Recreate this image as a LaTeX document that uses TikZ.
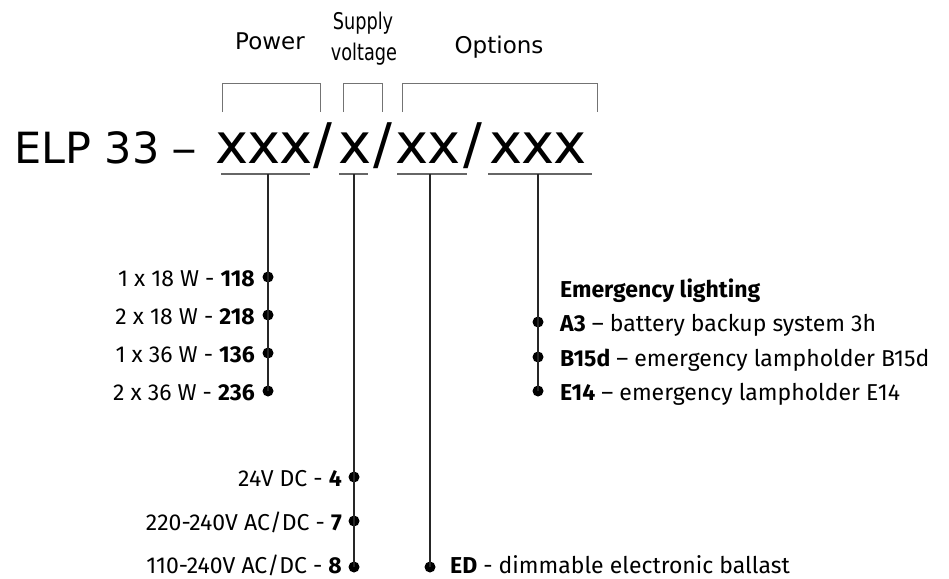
\documentclass[tikz,border=0pt]{standalone}
\usepackage{fontspec}
\setmainfont{Fira Sans}
\newfontfamily\bigfont{DejaVu Sans}
\newfontfamily\condfont{DejaVu Sans}[FakeStretch=0.77]
\begin{document}
\begin{tikzpicture}[x=1pt,y=-1pt,
  big/.style={font=\bigfont\fontsize{56}{58}\selectfont, inner sep=0pt, anchor=base},
  head/.style={font=\bigfont\fontsize{23}{25}\selectfont, inner sep=0pt, anchor=base},
  heads/.style={font=\condfont\fontsize{23}{25}\selectfont, inner sep=0pt, anchor=base},
  lbl/.style={font=\fontsize{23}{26}\selectfont, inner sep=0pt},
  brk/.style={draw=black!55, line width=0.9pt},
  uline/.style={draw=black!60, line width=1.3pt},
  conn/.style={draw=black!85, line width=1.3pt},
  dot/.style={circle, fill=black, inner sep=0pt, minimum size=11pt}]
\useasboundingbox (0,0) rectangle (949,578);
% headings
\node[head] (hpow) at (270,49) {Power};
\node[heads] (hsup1) at (363,30) {Supply};
\node[heads] (hsup2) at (364,60) {voltage};
\node[head] (hopt) at (499,53) {Options};
% brackets
\draw[brk] (222,112) |- (320,83) -- (320,112);
\draw[brk] (343,112) |- (382,83) -- (382,112);
\draw[brk] (402,112) |- (597,83) -- (597,112);
% big code
\node[big, font=\bigfont\fontsize{43}{46}\selectfont, anchor=base west] (elp) at (14,163) {ELP 33 \kern-2pt\scalebox{1.2}[1]{–}};
\node[big] (g1) at (264,163) {x\kern-1pt x\kern-1pt x};
\node[big] (s1) at (323,163) {/};
\node[big] (g2) at (355,163) {x};
\node[big] (s2) at (383,163) {/};
\node[big] (g3) at (428,163) {x\kern-1pt x};
\node[big] (s3) at (473,163) {/};
\node[big] (g4) at (538,163) {x\kern-1pt x\kern-1pt x};
% underlines
\draw[uline] (221,174) -- (310,174);
\draw[uline] (339,174) -- (368,174);
\draw[uline] (397,174) -- (467,174);
\draw[uline] (488,174) -- (592,174);
\coordinate (u1) at (268,174);
\coordinate (u2) at (354,174);
\coordinate (u3) at (430,174);
\coordinate (u4) at (538,174);
% power
\node[dot] (p1) at (268,277) {};
\node[dot] (p2) at (268,315) {};
\node[dot] (p3) at (268,353) {};
\node[dot] (p4) at (268,391) {};
\draw[conn] (u1) -- (p4.center);
\node[lbl, anchor=base east] (lp1) at (255,286) {1 x 18 W - \textbf{118}};
\node[lbl, anchor=base east] (lp2) at (255,324) {2 x 18 W - \textbf{218}};
\node[lbl, anchor=base east] (lp3) at (255,362) {1 x 36 W - \textbf{136}};
\node[lbl, anchor=base east] (lp4) at (255,400) {2 x 36 W - \textbf{236}};
% supply
\node[dot] (v1) at (354,477) {};
\node[dot] (v2) at (354,521) {};
\node[dot] (v3) at (354,567) {};
\draw[conn] (u2) -- (v3.center);
\node[lbl, anchor=base east] (lv1) at (342,486) {24V DC - \textbf{4}};
\node[lbl, anchor=base east] (lv2) at (342,530) {220-240V AC/DC - \textbf{7}};
\node[lbl, anchor=base east] (lv3) at (342,573) {110-240V AC/DC - \textbf{8}};
% options xx
\node[dot] (o1) at (430,567) {};
\draw[conn] (u3) -- (o1.center);
\node[lbl, anchor=base west] (lo1) at (450,573) {\textbf{ED} - dimmable electronic ballast};
% options xxx
\node[dot] (e1) at (538,322) {};
\node[dot] (e2) at (538,357) {};
\node[dot] (e3) at (538,391) {};
\draw[conn] (u4) -- (e3.center);
\node[lbl, anchor=base west] (eh) at (560,297) {\textbf{Emergency lighting}};
\node[lbl, anchor=base west] (le1) at (560,331) {\textbf{A3} – battery backup system 3h};
\node[lbl, anchor=base west] (le2) at (560,366) {\textbf{B15d} – emergency lampholder B15d};
\node[lbl, anchor=base west] (le3) at (560,400) {\textbf{E14} – emergency lampholder E14};
\end{tikzpicture}
\end{document}
